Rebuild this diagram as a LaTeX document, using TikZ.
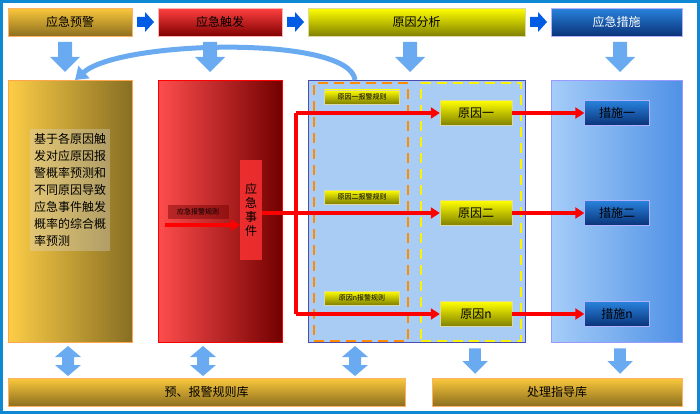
\documentclass[tikz,border=0pt]{standalone}
\usepackage{fontspec}
\newfontfamily\cjk{Noto Sans CJK SC}
\usetikzlibrary{shapes.arrows,arrows.meta}
\definecolor{lb}{HTML}{6AAAF0}
\definecolor{pb}{HTML}{A8CCF4}
\begin{document}
\begin{tikzpicture}[x=1pt,y=-1pt,font=\cjk,
 gold/.style={top color={rgb,255:red,250;green,200;blue,60},bottom color={rgb,255:red,140;green,110;blue,30},draw=orange!60},
 goldh/.style={left color={rgb,255:red,252;green,205;blue,70},right color={rgb,255:red,135;green,110;blue,35},draw=orange!70},
 redv/.style={top color=red!75,bottom color=red!50!black,draw=red!30},
 redh/.style={left color=red!70,right color=red!45!black,draw=red},
 yel/.style={top color=yellow,bottom color=yellow!50!black,draw=yellow!60!black!40},
 blu/.style={top color={rgb,255:red,40;green,130;blue,220},bottom color={rgb,255:red,10;green,50;blue,120},draw=blue!30},
 bluh/.style={left color={rgb,255:red,165;green,205;blue,248},right color={rgb,255:red,80;green,145;blue,230},draw=blue!40},
 rline/.style={draw=red,line width=3.2pt},
 rarr/.style={rline,-{Triangle[length=9pt,width=11pt]}},
 dn/.pic={\fill[lb] (-7,-15) -- (7,-15) -- (7,0) -- (15,0) -- (0,15) -- (-15,0) -- (-7,0) -- cycle;},
 ud/.pic={\fill[lb] (0,-15) -- (13,-4) -- (6,-4) -- (6,4) -- (13,4) -- (0,15) -- (-13,4) -- (-6,4) -- (-6,-4) -- (-13,-4) -- cycle;},
 rt/.pic={\fill[blue!60!cyan!90!black] (-8,-5) -- (0,-5) -- (0,-10) -- (9,0) -- (0,10) -- (0,5) -- (-8,5) -- cycle;}]
\useasboundingbox (0,0) rectangle (700,414);
\draw[cyan!70!blue,line width=3pt] (1.5,1.5) rectangle (698.5,412.5);
% headers
\node[gold,minimum width=124pt,minimum height=28pt,anchor=north west,font=\cjk\large] (h1) at (8,8) {应急预警};
\node[redv,minimum width=124pt,minimum height=28pt,anchor=north west,font=\cjk\large] (h2) at (158,8) {应急触发};
\node[yel,minimum width=217pt,minimum height=28pt,anchor=north west,font=\cjk\large] (h3) at (308,8) {原因分析};
\node[blu,minimum width=131pt,minimum height=28pt,anchor=north west,font=\cjk\large,text=white] (h4) at (551,8) {应急措施};
\foreach \x in {145,295,538}
 \pic at (\x,22) {rt};
% main boxes
\node[goldh,minimum width=124pt,minimum height=262pt,anchor=north west] (b1) at (8,80) {};
\node[redh,minimum width=124pt,minimum height=262pt,anchor=north west] (b2) at (158,80) {};
\node[fill=pb,draw=blue!40!gray,minimum width=217pt,minimum height=262pt,anchor=north west] (b3) at (308,80) {};
\node[bluh,minimum width=131pt,minimum height=262pt,anchor=north west] (b4) at (551,80) {};
% down arrows
\foreach \x in {65,210,410,620}
 \pic at (\x,57) {dn};
% text in gold
\node[fill=black!15,fill opacity=0.35,text opacity=1,align=left,font=\cjk\fontsize{12}{17}\selectfont,inner sep=4pt] (t1) at (70,190) {基于各原因触\\发对应原因报\\警概率预测和\\不同原因导致\\应急事件触发\\概率的综合概\\率预测};
% curved arrow
\coordinate (cs) at (355,80);
\coordinate (ce) at (75,80);
\draw[lb,line width=5pt,-{Triangle[length=12pt,width=16pt]}] (cs) .. controls (350,35) and (120,40) .. (ce);
% dashed frames
\node[draw=orange!90!yellow,line width=2.4pt,dash pattern=on 10pt off 6pt,minimum width=94pt,minimum height=258pt,anchor=north west] (f1) at (313,82) {};
\node[draw=yellow,line width=2.4pt,dash pattern=on 10pt off 6pt,minimum width=100pt,minimum height=258pt,anchor=north west] (f2) at (420,82) {};
% red box content
\node[fill=red!45!black,fill opacity=0.45,text opacity=1,font=\cjk\scriptsize,minimum width=61pt,minimum height=14pt,inner sep=1pt] (r) at (198,212) {应急报警规则};
\node[fill=red!80,fill opacity=0.8,text opacity=1,text width=16pt,align=center,font=\cjk\large,minimum height=100pt,inner sep=3pt,anchor=west] (ev) at (240,210) {应\\急\\事\\件};
\coordinate (rs) at (165,225);
\draw[rarr] (rs) -- (ev.west|-rs);
% causes & measures
\foreach \y/\c/\m/\l in {113/原因一/措施一/原因一报警规则,213/原因二/措施二/原因二报警规则,314/原因n/措施n/原因n报警规则}{
 \node[yel,minimum width=72pt,minimum height=25pt,font=\cjk\large] (c\y) at (476,\y) {\c};
 \node[blu,minimum width=65pt,minimum height=25pt,font=\cjk\large] (m\y) at (617,\y) {\m};
 \node[yel,minimum width=75pt,minimum height=14pt,font=\cjk\scriptsize,inner sep=0pt] (l\y) at (362,\y-16) {\l};
 \draw[rarr] (c\y) -- (m\y);
}
\coordinate (j) at (296,213);
\draw[rline] (ev.east|-j) -- (j);
\draw[rarr] (j|-c113) -- (c113);
\draw[rarr] (j) -- (c213);
\draw[rarr] (j|-c314) -- (c314);
\draw[rline] (j|-c113) -- (j|-c314);
% bottom
\node[gold,minimum width=397pt,minimum height=28pt,anchor=north west,font=\cjk\large] (k1) at (8,378) {预、报警规则库};
\node[gold,minimum width=250pt,minimum height=28pt,anchor=north west,font=\cjk\large] (k2) at (432,378) {处理指导库};
\foreach \x in {68,203,355}
 \pic at (\x,361) {ud};
\foreach \x in {475,620}
 \pic[scale=0.85] at (\x,361) {dn};
\end{tikzpicture}
\end{document}
